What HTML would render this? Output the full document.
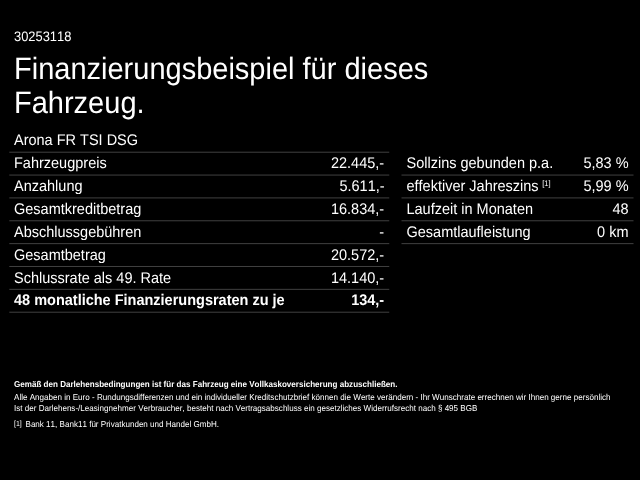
<!DOCTYPE html>
<html><head><meta charset="utf-8">
<style>
html,body{margin:0;padding:0;background:#000;overflow:hidden;}
body{width:640px;height:480px;position:relative;}
#c{position:absolute;left:0;top:0;width:1280px;height:960px;transform:scale(.5);transform-origin:0 0;font-family:"Liberation Sans",sans-serif;color:#fff;background:#000;font-kerning:none;text-rendering:geometricPrecision;}
.t{position:absolute;white-space:nowrap;}
.b{font-weight:bold;}
.ln{position:absolute;background:#404040;}
</style></head><body><div id="c">
<div class="t " style="left:28.00px;top:57.13px;font-size:27.48px;line-height:30.69px;transform:scaleX(0.93897);transform-origin:left top;">30253118</div>
<div class="t " style="left:28.00px;top:102.60px;font-size:61.77px;line-height:69.00px;transform:scaleX(0.93897);transform-origin:left top;">Finanzierungsbeispiel für dieses</div>
<div class="t " style="left:28.00px;top:170.30px;font-size:61.77px;line-height:69.00px;transform:scaleX(0.93897);transform-origin:left top;">Fahrzeug.</div>
<svg width="1280" height="960" viewBox="0 0 640 480" style="position:absolute;left:0;top:0;" fill="#404040">
<rect x="9.30" y="151.70" width="379.95" height="1.00"/>
<rect x="9.30" y="174.56" width="379.95" height="1.00"/>
<rect x="9.30" y="197.41" width="379.95" height="1.00"/>
<rect x="9.30" y="220.27" width="379.95" height="1.00"/>
<rect x="9.30" y="243.13" width="379.95" height="1.00"/>
<rect x="9.30" y="265.99" width="379.95" height="1.00"/>
<rect x="9.30" y="288.84" width="379.95" height="1.00"/>
<rect x="9.30" y="311.70" width="379.95" height="1.00"/>
<rect x="401.50" y="174.56" width="232.00" height="1.00"/>
<rect x="401.50" y="197.41" width="232.00" height="1.00"/>
<rect x="401.50" y="220.27" width="232.00" height="1.00"/>
<rect x="401.50" y="243.13" width="232.00" height="1.00"/>
</svg>
<div class="t " style="left:28.40px;top:262.85px;font-size:30.88px;line-height:34.50px;transform:scaleX(0.93897);transform-origin:left top;">Arona FR TSI DSG</div>
<div class="t " style="left:28.40px;top:308.65px;font-size:30.88px;line-height:34.50px;transform:scaleX(0.93897);transform-origin:left top;">Fahrzeugpreis</div>
<div class="t " style="right:511.30px;top:308.65px;font-size:30.88px;line-height:34.50px;transform:scaleX(0.93897);transform-origin:right top;">22.445,-</div>
<div class="t " style="left:28.40px;top:354.45px;font-size:30.88px;line-height:34.50px;transform:scaleX(0.93897);transform-origin:left top;">Anzahlung</div>
<div class="t " style="right:511.30px;top:354.45px;font-size:30.88px;line-height:34.50px;transform:scaleX(0.93897);transform-origin:right top;">5.611,-</div>
<div class="t " style="left:28.40px;top:400.25px;font-size:30.88px;line-height:34.50px;transform:scaleX(0.93897);transform-origin:left top;">Gesamtkreditbetrag</div>
<div class="t " style="right:511.30px;top:400.25px;font-size:30.88px;line-height:34.50px;transform:scaleX(0.93897);transform-origin:right top;">16.834,-</div>
<div class="t " style="left:28.40px;top:446.05px;font-size:30.88px;line-height:34.50px;transform:scaleX(0.93897);transform-origin:left top;">Abschlussgebühren</div>
<div class="t " style="right:511.30px;top:446.05px;font-size:30.88px;line-height:34.50px;transform:scaleX(0.93897);transform-origin:right top;">-</div>
<div class="t " style="left:28.40px;top:491.85px;font-size:30.88px;line-height:34.50px;transform:scaleX(0.93897);transform-origin:left top;">Gesamtbetrag</div>
<div class="t " style="right:511.30px;top:491.85px;font-size:30.88px;line-height:34.50px;transform:scaleX(0.93897);transform-origin:right top;">20.572,-</div>
<div class="t " style="left:28.40px;top:537.65px;font-size:30.88px;line-height:34.50px;transform:scaleX(0.93897);transform-origin:left top;">Schlussrate als 49. Rate</div>
<div class="t " style="right:511.30px;top:537.65px;font-size:30.88px;line-height:34.50px;transform:scaleX(0.93897);transform-origin:right top;">14.140,-</div>
<div class="t b" style="left:28.40px;top:583.45px;font-size:30.88px;line-height:34.50px;transform:scaleX(0.93897);transform-origin:left top;">48 monatliche Finanzierungsraten zu je</div>
<div class="t b" style="right:511.30px;top:583.45px;font-size:30.88px;line-height:34.50px;transform:scaleX(0.93897);transform-origin:right top;">134,-</div>
<div class="t " style="left:812.80px;top:308.65px;font-size:30.88px;line-height:34.50px;transform:scaleX(0.93897);transform-origin:left top;">Sollzins gebunden p.a.</div>
<div class="t " style="right:22.80px;top:308.65px;font-size:30.88px;line-height:34.50px;transform:scaleX(0.93897);transform-origin:right top;">5,83 %</div>
<div class="t " style="left:812.80px;top:354.45px;font-size:30.88px;line-height:34.50px;transform:scaleX(0.93897);transform-origin:left top;">effektiver Jahreszins <span style="font-size:16.19px;position:relative;margin-left:-1.06px;top:-10.00px;">[1]</span></div>
<div class="t " style="right:22.80px;top:354.45px;font-size:30.88px;line-height:34.50px;transform:scaleX(0.93897);transform-origin:right top;">5,99 %</div>
<div class="t " style="left:812.80px;top:400.25px;font-size:30.88px;line-height:34.50px;transform:scaleX(0.93897);transform-origin:left top;">Laufzeit in Monaten</div>
<div class="t " style="right:22.80px;top:400.25px;font-size:30.88px;line-height:34.50px;transform:scaleX(0.93897);transform-origin:right top;">48</div>
<div class="t " style="left:812.80px;top:446.05px;font-size:30.88px;line-height:34.50px;transform:scaleX(0.93897);transform-origin:left top;">Gesamtlaufleistung</div>
<div class="t " style="right:22.80px;top:446.05px;font-size:30.88px;line-height:34.50px;transform:scaleX(0.93897);transform-origin:right top;">0 km</div>
<div class="t b" style="left:28.00px;top:757.65px;font-size:17.18px;line-height:19.19px;transform:scaleX(0.93897);transform-origin:left top;">Gemäß den Darlehensbedingungen ist für das Fahrzeug eine Vollkaskoversicherung abzuschließen.</div>
<div class="t " style="left:28.00px;top:783.85px;font-size:17.18px;line-height:19.19px;transform:scaleX(0.93897);transform-origin:left top;">Alle Angaben in Euro - Rundungsdifferenzen und ein individueller Kreditschutzbrief können die Werte verändern - Ihr Wunschrate errechnen wir Ihnen gerne persönlich</div>
<div class="t " style="left:28.00px;top:806.45px;font-size:17.18px;line-height:19.19px;transform:scaleX(0.93897);transform-origin:left top;">Ist der Darlehens-/Leasingnehmer Verbraucher, besteht nach Vertragsabschluss ein gesetzliches Widerrufsrecht nach § 495 BGB</div>
<div class="t " style="left:28.00px;top:838.05px;font-size:17.18px;line-height:19.19px;transform:scaleX(0.93897);transform-origin:left top;"><span style="font-size:14.91px;position:relative;top:-1.60px;">[1]</span></div>
<div class="t " style="left:50.60px;top:838.05px;font-size:17.18px;line-height:19.19px;transform:scaleX(0.93897);transform-origin:left top;">Bank 11, Bank11 für Privatkunden und Handel GmbH.</div>
</div></body></html>
